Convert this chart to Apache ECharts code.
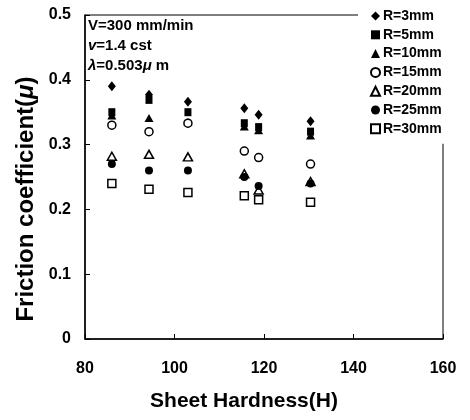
<!DOCTYPE html>
<html>
<head>
<meta charset="utf-8">
<script src="https://cdn.jsdelivr.net/npm/echarts@6/dist/echarts.min.js"></script>
<style>html,body{margin:0;padding:0;background:#fff}#c{width:470px;height:420px}</style>
</head>
<body>
<div id="c"></div>
<script>
const hardness = [86, 94.3, 103, 115.6, 118.8, 130.4];
const r3  = [0.390, 0.377, 0.366, 0.356, 0.346, 0.336];
const r5  = [0.350, 0.369, 0.350, 0.333, 0.327, 0.320];
const r10 = [0.345, 0.341, 0.335, 0.328, 0.322, 0.314];
const r15 = [0.330, 0.320, 0.333, 0.290, 0.280, 0.270];
const r20 = [0.282, 0.285, 0.281, 0.255, 0.230, 0.243];
const r25 = [0.270, 0.260, 0.260, 0.250, 0.236, 0.240];
const r30 = [0.240, 0.231, 0.226, 0.221, 0.215, 0.211];
const xTicks = {min: 80, max: 160, interval: 20};
const yTicks = {min: 0, max: 0.5, interval: 0.1};

const FONT = '"Liberation Sans", Arial, sans-serif';
const pair = v => hardness.map((h, i) => [h, v[i]]);
function mk(name, data, symbol, size, open) {
  return {
    name, type: 'scatter', data: pair(data), symbol, symbolSize: size,
    itemStyle: open ? {color: '#fff', borderColor: '#000', borderWidth: 1.5, opacity: 1}
                    : {color: '#000', borderWidth: 0, opacity: 1},
    emphasis: {disabled: true}
  };
}
const chart = echarts.init(document.getElementById('c'));
chart.setOption({
  animation: false,
  backgroundColor: '#fff',
  grid: {left: 85, right: 27, top: 15, bottom: 81, show: true, borderColor: '#000', borderWidth: 1, backgroundColor: 'transparent'},
  xAxis: {
    type: 'value', min: xTicks.min, max: xTicks.max, interval: xTicks.interval,
    axisLine: {onZero: false, lineStyle: {color: '#000', width: 1.5}},
    axisTick: {inside: true, length: 5, lineStyle: {color: '#000'}},
    axisLabel: {color: '#000', fontFamily: FONT, fontWeight: 'bold', fontSize: 16, margin: 22},
    splitLine: {show: false}
  },
  yAxis: {
    type: 'value', min: yTicks.min, max: yTicks.max, interval: yTicks.interval,
    axisLine: {show: true, onZero: false, lineStyle: {color: '#000', width: 1.5}},
    axisTick: {show: true, inside: true, length: 5, lineStyle: {color: '#000'}},
    axisLabel: {color: '#000', fontFamily: FONT, fontWeight: 'bold', fontSize: 16, margin: 14},
    splitLine: {show: false}
  },
  legend: {
    orient: 'vertical', left: 358, top: 4, padding: [5, 8, 8, 12],
    backgroundColor: '#fff', itemWidth: 9, itemHeight: 9, itemGap: 4.8,
    textStyle: {color: '#000', fontFamily: FONT, fontWeight: 'bold', fontSize: 14, lineHeight: 14, padding: [0, 0, 0, -2]},
    data: ['R=3mm', 'R=5mm', 'R=10mm', 'R=15mm', 'R=20mm', 'R=25mm', 'R=30mm']
  },
  graphic: [
    {type: 'text', left: 88, top: 18, style: {text: 'V=300 mm/min', font: 'bold 15px ' + FONT, fill: '#000'}},
    {type: 'text', left: 88, top: 38, style: {text: '{i|v}=1.4 cst', font: 'bold 15px ' + FONT, fill: '#000',
      rich: {i: {fontStyle: 'italic', fontWeight: 'bold', fontSize: 15, fontFamily: FONT}}}},
    {type: 'text', left: 88, top: 58, style: {text: '{i|λ}=0.503{i|μ} m', font: 'bold 15px ' + FONT, fill: '#000',
      rich: {i: {fontStyle: 'italic', fontWeight: 'bold', fontSize: 15, fontFamily: FONT}}}},
    {type: 'text', x: 244, y: 401, style: {text: 'Sheet Hardness(H)', font: 'bold 21px ' + FONT, fill: '#000', align: 'center', verticalAlign: 'middle'}},
    {type: 'text', x: 26, y: 199, rotation: Math.PI / 2, style: {text: 'Friction coefficient({i|μ})', font: 'bold 24px ' + FONT, fill: '#000', align: 'center', verticalAlign: 'middle',
      rich: {i: {fontStyle: 'italic', fontWeight: 'bold', fontSize: 24, fontFamily: FONT}}}}
  ],
  series: [
    mk('R=3mm', r3, 'diamond', [8, 10], false),
    mk('R=5mm', r5, 'rect', [7, 8], false),
    mk('R=10mm', r10, 'triangle', [9, 8], false),
    mk('R=15mm', r15, 'circle', 8, true),
    mk('R=20mm', r20, 'triangle', [9, 8], true),
    mk('R=25mm', r25, 'circle', 8, false),
    mk('R=30mm', r30, 'rect', 8, true)
  ]
});
</script>
</body>
</html>
